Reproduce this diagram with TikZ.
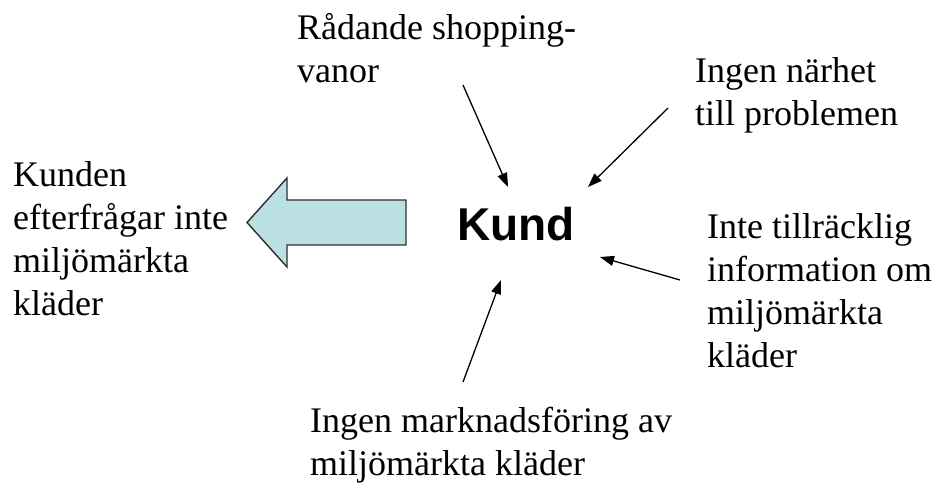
\documentclass[tikz,border=0pt]{standalone}
\usepackage{fontspec}
\setmainfont{Liberation Serif}
\newfontfamily\arialfont{Liberation Sans}
\usetikzlibrary{arrows.meta}

\definecolor{arrowfill}{HTML}{BBE0E3}
\definecolor{arrowedge}{HTML}{2E2E2E}

\tikzset{
  % multi-line labels are placed by the baseline of their last line
  label/.style={anchor=base west, inner sep=0pt, align=left,
                font=\fontsize{36}{43}\selectfont},
  cause/.style={line width=1.3pt, -{Triangle[length=14pt,width=10pt]}},
  bigarrow/.style={fill=arrowfill, draw=arrowedge, line width=1.4pt, line join=miter}
}

\begin{document}
\begin{tikzpicture}[x=1pt, y=-1pt]
  \useasboundingbox (0,0) rectangle (934,485);

  % central actor
  \node[inner sep=0pt, anchor=base west, font=\arialfont\bfseries\fontsize{46}{55}\selectfont]
    (kund) at (457,240) {Kund};

  % consequence, pointed to by the block arrow
  \node[label] (result) at (13,315) {Kunden\\efterfrågar inte\\miljömärkta\\kläder};
  \draw[bigarrow] (247,222.5) -- (287,178) -- (287,200) -- (406,200)
                  -- (406,245) -- (287,245) -- (287,267) -- cycle;

  % causes around the actor
  \node[label] (habits) at (297,82) {Rådande shopping-\\vanor};
  \node[label] (distance) at (695,125) {Ingen närhet\\till problemen};
  \node[label] (info) at (707,367) {Inte tillräcklig\\information om\\miljömärkta\\kläder};
  \node[label] (marketing) at (310,475) {Ingen marknadsföring av\\miljömärkta kläder};

  % connector ends
  \coordinate (habitsS) at (463,85);
  \coordinate (habitsE) at (508,187);
  \coordinate (distS) at (668,108);
  \coordinate (distE) at (588,187);
  \coordinate (infoS) at (680,280);
  \coordinate (infoE) at (600,257);
  \coordinate (markS) at (463,382);
  \coordinate (markE) at (501,280);

  \draw[cause] (habitsS) -- (habitsE);
  \draw[cause] (distS) -- (distE);
  \draw[cause] (infoS) -- (infoE);
  \draw[cause] (markS) -- (markE);
\end{tikzpicture}
\end{document}
